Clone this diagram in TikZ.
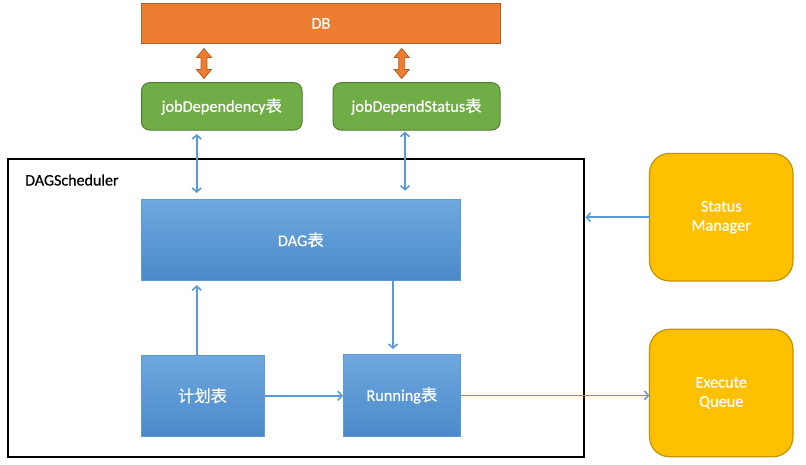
\documentclass[tikz,border=0pt]{standalone}
\usepackage{fontspec}
\setmainfont[FakeBold=0.5]{Carlito}
\newfontfamily\cjk[FakeBold=0.5]{Noto Sans CJK SC}
\usetikzlibrary{arrows.meta}
\definecolor{dbor}{HTML}{ED7D31}
\definecolor{dbbd}{HTML}{B45F24}
\definecolor{grn}{HTML}{70AD47}
\definecolor{grnbd}{HTML}{507E32}
\definecolor{bltop}{HTML}{6FA8DF}
\definecolor{blbot}{HTML}{4A89C9}
\definecolor{blbd}{HTML}{5E9BD6}
\definecolor{ylw}{HTML}{FFC000}
\definecolor{ylwbd}{HTML}{C49300}
\definecolor{arr}{HTML}{5B9BD5}
\newcommand{\biao}{{\cjk 表}}
\tikzset{
  box/.style={inner sep=0pt, outer sep=0pt, align=center, text=white, font=\fontsize{16.3}{19.2}\selectfont},
  dbbox/.style={box, fill=dbor, draw=dbbd, line width=1pt},
  tblbox/.style={box, fill=grn, draw=grnbd, line width=1pt, rounded corners=8pt},
  bluebox/.style={box, top color=bltop, bottom color=blbot, draw=blbd, line width=0.8pt},
  ybox/.style={box, fill=ylw, draw=ylwbd, line width=1.2pt, rounded corners=20pt},
  conn/.style={draw=arr, line width=1.6pt, -{Straight Barb[length=4pt,width=9pt,line width=1.6pt]}},
  dconn/.style={conn, {Straight Barb[length=4pt,width=9pt,line width=1.6pt]}-{Straight Barb[length=4pt,width=9pt,line width=1.6pt]}},
  fatdarrow/.pic={
    \filldraw[fill=dbor, draw=dbbd, line width=0.8pt]
      (0,0) -- (7.5,9) -- (3,9) -- (3,21) -- (7.5,21) -- (0,30) -- (-7.5,21) -- (-3,21) -- (-3,9) -- (-7.5,9) -- cycle;
  }
}
\begin{document}
\begin{tikzpicture}[x=1pt,y=-1pt]
\useasboundingbox (0,0) rectangle (806,464);
\fill[white] (0,0) rectangle (806,464);

% frame
\node[draw=black, line width=2pt, inner sep=0pt, outer sep=0pt, minimum width=576pt, minimum height=298pt] (frame) at (296,308) {};
\node[anchor=base west, inner sep=0pt, font=\fontsize{16}{19.2}\selectfont] (lbl) at (25,185.5) {DAGScheduler};

% top nodes
\node[dbbox, minimum width=359pt, minimum height=40pt] (db) at (321,23.3) {DB};
\node[tblbox, minimum width=160.5pt, minimum height=47.3pt] (jd) at (221.75,106.35) {jobDependency\biao};
\node[tblbox, minimum width=167pt, minimum height=47.3pt] (jds) at (416.5,106.35) {jobDependStatus\biao};

\pic at (204,48.5) {fatdarrow};
\pic at (401.7,48.5) {fatdarrow};

% blue boxes
\node[bluebox, minimum width=319.5pt, minimum height=81.7pt] (dag) at (300.75,239.85) {DAG\biao};
\node[bluebox, minimum width=123pt, minimum height=81.5pt] (plan) at (202.5,395.75) {{\cjk 计划表}};
\node[bluebox, minimum width=117.7pt, minimum height=82.7pt] (run) at (401.85,395.35) {Running\biao};

% yellow boxes
\node[ybox, minimum width=143.5pt, minimum height=127.5pt] (sm) at (721.25,217.2) {Status\\Manager};
\node[ybox, minimum width=143.5pt, minimum height=127.5pt] (eq) at (721.25,393) {Execute\\Queue};

% connector columns
\coordinate (c1) at (196.7,0);
\coordinate (c2) at (405,0);
\coordinate (c3) at (393,0);

\draw[dconn, shorten <=4pt, shorten >=6pt] (jd.south -| c1) -- (dag.north -| c1);
\draw[dconn, shorten <=1.7pt, shorten >=8.3pt] (jds.south -| c2) -- (dag.north -| c2);
\draw[conn, shorten >=4.5pt] (plan.north -| c1) -- (dag.south -| c1);
\draw[conn, shorten >=5pt] (dag.south -| c3) -- (run.north -| c3);
\draw[conn] (plan.east) -- (plan.east -| run.west);
\draw[conn] (run.east) -- (run.east -| eq.west);
\draw[conn, shorten >=1.5pt] (sm.west) -- (sm.west -| frame.east);
\end{tikzpicture}
\end{document}
